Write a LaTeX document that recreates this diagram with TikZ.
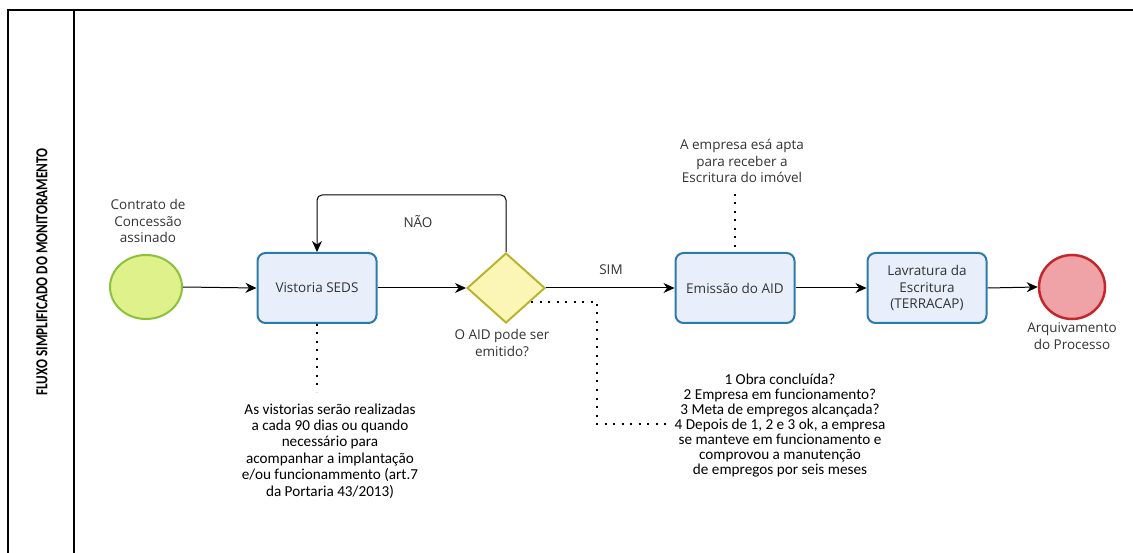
\documentclass[tikz,border=0pt]{standalone}
\usepackage{fontspec}
\setmainfont{Open Sans}
\newfontfamily\annfont{Carlito}
\usetikzlibrary{shapes.geometric,arrows.meta,positioning}
\definecolor{txt}{HTML}{333333}
\definecolor{startfill}{HTML}{DFF18A}
\definecolor{startline}{HTML}{8DC03C}
\definecolor{taskfill}{HTML}{E8EEFA}
\definecolor{taskline}{HTML}{2A7AAA}
\definecolor{gatefill}{HTML}{FBF6B5}
\definecolor{gateline}{HTML}{B8B431}
\definecolor{endfill}{HTML}{F0A3A6}
\definecolor{endline}{HTML}{C1272D}
\tikzset{
  x=1pt,y=-1pt,
  lbl/.style={font=\fontsize{13.5}{16.5}\selectfont, text=txt, align=center},
  ann/.style={font=\annfont\fontsize{15.2}{16.4}\selectfont, text=black, align=center},
  ann2/.style={font=\annfont\fontsize{15.2}{15}\selectfont, text=black, align=center},
  taskbox/.style={draw=taskline, fill=taskfill, line width=2pt, rounded corners=8pt,
    minimum width=119pt, minimum height=70pt, inner sep=0pt, lbl},
  startev/.style={ellipse, draw=startline, fill=startfill, line width=2pt,
    minimum width=72pt, minimum height=64pt, inner sep=0pt},
  endev/.style={ellipse, draw=endline, fill=endfill, line width=2.5pt,
    minimum width=66pt, minimum height=64pt, inner sep=0pt},
  gate/.style={diamond, draw=gateline, fill=gatefill, line width=2pt,
    minimum width=78pt, minimum height=70pt, inner sep=0pt, aspect=1.1},
  flow/.style={line width=1pt, -{Stealth[length=11pt,width=10pt,inset=3.5pt]}},
  assoc/.style={line width=2pt, dash pattern=on 2pt off 6.5pt},
}
\begin{document}
\begin{tikzpicture}
\useasboundingbox (0,0) rectangle (1133,553);
% pool frame
\draw[line width=1.3pt] (8,560) -- (8,10) -- (1140,10);
\draw[line width=1.3pt] (74,10) -- (74,560);
\node[rotate=90, inner sep=0pt] (pool) at (42,272)
  {\resizebox{247pt}{11pt}{\annfont\bfseries FLUXO SIMPLIFICADO DO MONITORAMENTO}};

% nodes
\node[startev] (start) at (146,287) {};
\node[lbl] (startl) at (148,221) {Contrato de\\Concessão\\assinado};
\node[taskbox] (vis) at (317,288) {Vistoria SEDS};
\node[gate] (gw) at (506,288) {};
\node[lbl] (gwl) at (502,343) {O AID pode ser\\emitido?};
\node[taskbox] (emi) at (735,288) {Emissão do AID};
\node[taskbox] (lav) at (927,288) {Lavratura da\\Escritura\\(TERRACAP)};
\node[endev] (fim) at (1072,287) {};
\node[lbl] (fiml) at (1072,336) {Arquivamento\\do Processo};

% flows
\draw[flow] (start.east) -- (vis.west);
\draw[flow] (vis.east) -- (gw.west);
\draw[flow] (gw.east) -- (emi.west);
\node[lbl] (sim) at (611,270) {SIM};
\draw[flow] (emi.east) -- (lav.west);
\draw[flow] (lav.east) -- (fim.west);
\coordinate (l1) at (506,195);
\coordinate (l2) at (317,195);
\draw[flow, rounded corners=5pt] (gw.north) -- (l1) -- (l2) -- (vis.north);
\node[lbl] (nao) at (418,222) {NÃO};

% annotations
\node[lbl] (annemi) at (742,161) {A empresa esá apta\\para receber a\\Escritura do imóvel};
\coordinate (aemi) at (735,194);
\draw[assoc] (aemi) -- (emi.north);

\coordinate (avis) at (317,392);
\draw[assoc] (vis.south) -- (avis);
\node[ann, anchor=north] (annvis) at (330,400) {As vistorias serão realizadas\\a cada 90 dias ou quando\\necessário para\\acompanhar a implantação\\e/ou funcionammento (art.7\\da Portaria 43/2013)};

\coordinate (ag1) at (531,302);
\coordinate (ag2) at (597,302);
\coordinate (ag3) at (597,424);
\coordinate (ag4) at (668,424);
\draw[assoc] (ag1) -- (ag2) -- (ag3) -- (ag4);
\node[ann2, anchor=north] (anngw) at (780,370) {1 Obra concluída?\\2 Empresa em funcionamento?\\3 Meta de empregos alcançada?\\4 Depois de 1, 2 e 3 ok, a empresa\\se manteve em funcionamento e\\comprovou a manutenção\\de empregos por seis meses};
\end{tikzpicture}
\end{document}
